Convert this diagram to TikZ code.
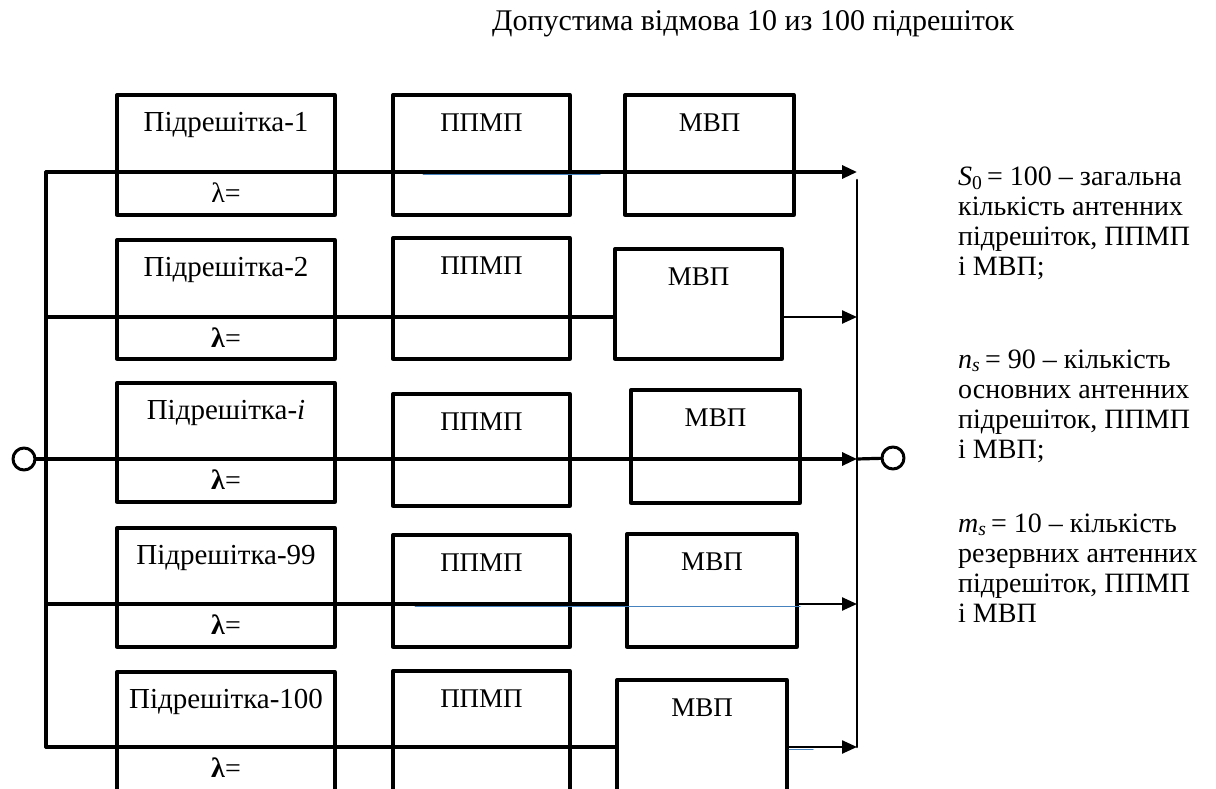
\documentclass[tikz,border=0pt]{standalone}
\usepackage{fontspec}
\setmainfont{Liberation Serif}
\usepackage{tikz}
\usetikzlibrary{arrows.meta}
\definecolor{strayblue}{RGB}{70,130,190}
\tikzset{
  blk/.style={draw=black,line width=3.3pt,rectangle,inner sep=0pt,outer sep=0pt},
  lbl/.style={inner sep=0pt,font=\fontsize{28}{30}\selectfont},
  sublbl/.style={lbl,font=\fontsize{29}{30}\selectfont},
  unitlbl/.style={lbl,font=\fontsize{27}{30}\selectfont},
  wire/.style={line width=3.2pt},
  thinwire/.style={line width=2.4pt},
  stray/.style={line width=1pt,color=strayblue}
}
\begin{document}
\begin{tikzpicture}[line cap=round,line join=round,>={Triangle[length=15pt,width=13pt]},x=1pt,y=-1pt]
\useasboundingbox (0,0) rectangle (1216,789);
\clip (0,0) rectangle (1216,789);
\node[lbl,font=\fontsize{30}{32}\selectfont,anchor=base west] (title) at (492,31) {Допустима відмова 10 из 100 підрешіток};
\foreach \k/\yt/\h in {1/95/120,2/240/119,i/383/119,99/528/119,100/672/150}
  \node[blk,anchor=north west,minimum width=218pt,minimum height=\h pt] (sub\k) at (117,\yt) {};
\foreach \k/\t in {1/1,2/2,i/{\textit{i}},99/99,100/100}
  \node[sublbl] (tsub\k) at ([yshift=-30pt]sub\k.north) {Підрешітка-\t};
\foreach \k/\yt/\h in {1/95/120,2/238/121,i/394/112,99/535/112,100/671/150}
  \node[blk,anchor=north west,minimum width=177pt,minimum height=\h pt] (pp\k) at (393,\yt) {};
\foreach \k/\x/\yt/\w/\h in {1/625/95/169/120,2/615/249/167/110,i/631/390/169/113,99/627/534/170/113,100/617/680/170/150}
  \node[blk,anchor=north west,minimum width=\w pt,minimum height=\h pt] (mv\k) at (\x,\yt) {};
\foreach \k in {1,2,i,99,100}{
  \node[unitlbl] (tpp\k) at ([yshift=-28pt]pp\k.north) {ППМП};
  \node[unitlbl] (tmv\k) at ([yshift=-28pt]mv\k.north) {МВП};
}
\foreach \k/\y in {1/172,2/317,i/459,99/604,100/747}{
  \coordinate (bl\k) at (46,\y);
  \coordinate (br\k) at (857,\y);
}
\foreach \k/\l in {1/{λ=},2/{\textbf{λ}=},i/{\textbf{λ}=},99/{\textbf{λ}=},100/{\textbf{λ}=}}
  \path (sub\k |- bl\k) ++(0,21) node[lbl] (lam\k) {\l};
\node[circle,draw,line width=3pt,minimum size=22pt,inner sep=0pt] (in) at (24,459) {};
\node[circle,draw,line width=3pt,minimum size=22pt,inner sep=0pt] (out) at (893,458) {};
\coordinate (brtop) at (857,180);
\draw[wire] (bl1) -- (bl100);
\draw[line width=2.6pt] (brtop) -- (br100);
\draw[wire,->] (bl1) -- (br1);
\draw[wire] (bl2) -- (mv2.west |- bl2);
\draw[thinwire,->] (mv2.east |- bl2) -- (br2);
\draw[wire] (in) -- (bli);
\draw[wire,->] (bli) -- (bri);
\draw[wire] (bri) -- (out);
\draw[wire] (bl99) -- (mv99.west |- bl99);
\draw[thinwire,->] (mv99.east |- bl99) -- (br99);
\draw[wire] (bl100) -- (mv100.west |- bl100);
\draw[thinwire,->] (mv100.east |- bl100) -- (br100);
\draw[stray] (423,174.5) -- (600,174.5);
\draw[stray] (415,606) -- (800,606);
\draw[stray] (789,749) -- (813,749);
\node[lbl,anchor=base west,align=left] (txs) at (958,275) {{\itshape S}\textsubscript{0}\,= 100 – загальна\\кількість антенних\\підрешіток, ППМП\\і МВП;};
\node[lbl,anchor=base west,align=left] (txn) at (958,458) {{\itshape n}\textsubscript{\itshape s}\,= 90 – кількість\\основних антенних\\підрешіток, ППМП\\і МВП;};
\node[lbl,anchor=base west,align=left] (txm) at (958,622) {{\itshape m}\textsubscript{\itshape s}\,= 10 – кількість\\резервних антенних\\підрешіток, ППМП\\і МВП};
\end{tikzpicture}
\end{document}
